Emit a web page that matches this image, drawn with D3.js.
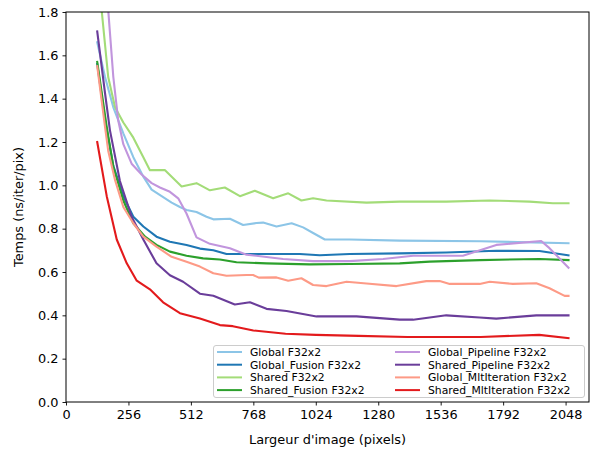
<!DOCTYPE html>
<html><head><meta charset="utf-8">
<script src="https://cdn.jsdelivr.net/npm/d3@7"></script>
<style>body{margin:0;background:#fff}svg{display:block}text{font-family:"DejaVu Sans",sans-serif}</style>
</head><body><svg id="c" width="595" height="453"></svg>
<script>
const xTicks = [0,256,512,768,1024,1280,1536,1792,2048];
const yTicks = [0,0.2,0.4,0.6,0.8,1.0,1.2,1.4,1.6,1.8];
const seriesNames = ["Global F32x2","Global_Fusion F32x2","Shared F32x2","Shared_Fusion F32x2","Global_Pipeline F32x2","Shared_Pipeline F32x2","Global_MltIteration F32x2","Shared_MltIteration F32x2"];
const seriesColors = ["#8cc5e7","#1f77b4","#a3dc78","#2ca02c","#c195dd","#6a3d9a","#fd9a86","#e31a1c"];

const globalF32 = [[128,1.66],[160,1.50],[194,1.36],[235,1.24],[276,1.13],[317,1.04],[351,0.98],[392,0.95],[433,0.92],[467,0.90],[494,0.886],[535,0.877],[576,0.855],[604,0.843],[672,0.846],[726,0.817],[781,0.826],[808,0.828],[863,0.81],[925,0.825],[972,0.806],[1013,0.78],[1061,0.75],[1163,0.75],[1368,0.745],[1700,0.742],[2060,0.733]];
const globalFusion = [[128,1.56],[160,1.30],[194,1.09],[235,0.95],[276,0.855],[317,0.81],[371,0.763],[426,0.74],[494,0.725],[549,0.708],[604,0.70],[658,0.683],[822,0.683],[958,0.683],[1040,0.677],[1163,0.683],[1368,0.686],[1559,0.69],[1764,0.698],[1941,0.697],[2060,0.677]];
const sharedF32 = [[128,2.02],[146,1.81],[173,1.50],[201,1.36],[235,1.29],[276,1.22],[317,1.13],[344,1.07],[406,1.07],[474,0.995],[535,1.01],[590,0.977],[651,0.99],[713,0.95],[774,0.975],[849,0.94],[911,0.963],[965,0.93],[1013,0.94],[1068,0.93],[1232,0.92],[1368,0.925],[1559,0.925],[1737,0.93],[1900,0.925],[1996,0.917],[2060,0.917]];
const sharedFusion = [[128,1.57],[167,1.27],[194,1.086],[235,0.93],[276,0.825],[324,0.763],[371,0.725],[426,0.694],[494,0.675],[562,0.663],[631,0.658],[699,0.645],[822,0.64],[999,0.635],[1163,0.637],[1368,0.64],[1491,0.648],[1696,0.655],[1941,0.66],[2060,0.655]];
const globalPipeline = [[128,2.3],[173,1.81],[194,1.50],[214,1.30],[235,1.19],[269,1.10],[310,1.05],[351,1.01],[385,0.99],[426,0.97],[460,0.94],[494,0.87],[535,0.76],[590,0.73],[631,0.72],[672,0.71],[740,0.68],[890,0.66],[1013,0.65],[1163,0.65],[1300,0.66],[1423,0.675],[1627,0.675],[1764,0.725],[1948,0.743],[1982,0.71],[2060,0.62]];
const sharedPipeline = [[128,1.71],[160,1.425],[180,1.255],[221,1.02],[269,0.855],[317,0.75],[371,0.64],[426,0.585],[480,0.555],[549,0.50],[604,0.49],[692,0.45],[754,0.46],[822,0.43],[904,0.42],[1027,0.395],[1191,0.395],[1368,0.38],[1423,0.38],[1559,0.40],[1696,0.39],[1764,0.385],[1928,0.40],[2060,0.40]];
const globalMlt = [[128,1.55],[160,1.27],[173,1.16],[201,1.025],[235,0.90],[276,0.825],[317,0.763],[371,0.717],[433,0.67],[494,0.647],[549,0.625],[604,0.594],[658,0.583],[740,0.586],[767,0.586],[790,0.574],[863,0.575],[911,0.56],[965,0.571],[1013,0.54],[1068,0.535],[1150,0.555],[1232,0.547],[1355,0.535],[1477,0.558],[1532,0.558],[1573,0.545],[1696,0.545],[1737,0.555],[1832,0.545],[1928,0.548],[1982,0.525],[2044,0.49],[2060,0.49]];
const sharedMlt = [[128,1.20],[167,0.95],[208,0.75],[249,0.64],[290,0.56],[344,0.52],[398,0.46],[467,0.41],[549,0.385],[631,0.355],[684,0.35],[768,0.33],[900,0.315],[1024,0.31],[1200,0.305],[1400,0.30],[1700,0.30],[1940,0.31],[2060,0.295]];
const seriesData = [globalF32,globalFusion,sharedF32,sharedFusion,globalPipeline,sharedPipeline,globalMlt,sharedMlt];

const svg = d3.select("#c");
const L=66,R=589,T=12,B=402;
const x = d3.scaleLinear().domain([0,2144]).range([L,R]);
const y = d3.scaleLinear().domain([0,1.8]).range([B,T]);

svg.append("defs").append("clipPath").attr("id","clip").append("rect")
  .attr("x",L).attr("y",T).attr("width",R-L).attr("height",B-T);

const line = d3.line().x(d=>x(d[0])).y(d=>y(d[1]));
const g = svg.append("g").attr("clip-path","url(#clip)");
seriesData.forEach((s,i)=>{
  g.append("path").attr("d",line(s)).attr("fill","none")
   .attr("stroke",seriesColors[i]).attr("stroke-width",2.1).attr("stroke-linejoin","round").attr("stroke-linecap","square");
});

const xa = svg.append("g").attr("transform",`translate(0,${B})`)
  .call(d3.axisBottom(x).tickValues(xTicks).tickFormat(d3.format("d")).tickSizeOuter(0).tickSize(3.5).tickPadding(4));
const ya = svg.append("g").attr("transform",`translate(${L},0)`)
  .call(d3.axisLeft(y).tickValues(yTicks).tickFormat(d3.format(".1f")).tickSizeOuter(0).tickSize(3.5).tickPadding(4));
[xa,ya].forEach(a=>{
  a.select(".domain").remove();
  a.selectAll("line").attr("stroke","#000").attr("stroke-width",0.9);
  a.selectAll("text").attr("font-size",12.9).attr("fill","#000").attr("font-family","DejaVu Sans");
});
svg.append("rect").attr("x",L).attr("y",T).attr("width",R-L).attr("height",B-T)
  .attr("fill","none").attr("stroke","#000").attr("stroke-width",1);

svg.append("text").attr("x",(L+R)/2).attr("y",444).attr("text-anchor","middle")
  .attr("font-size",12.9).text("Largeur d'image (pixels)");
svg.append("text").attr("transform",`translate(23,${(T+B)/2}) rotate(-90)`).attr("text-anchor","middle")
  .attr("font-size",12.9).text("Temps (ns/iter/pix)");

const lg = svg.append("g");
lg.append("rect").attr("x",213.5).attr("y",345.5).attr("width",371).attr("height",52).attr("rx",2.5)
  .attr("fill","#fff").attr("fill-opacity",0.8).attr("stroke","#cccccc").attr("stroke-width",1);
const colX=[217,395], rowY=[352,364.7,377.4,390.1];
seriesNames.forEach((n,i)=>{
  const c=Math.floor(i/4), r=i%4;
  lg.append("line").attr("x1",colX[c]).attr("x2",colX[c]+25).attr("y1",rowY[r]).attr("y2",rowY[r])
    .attr("stroke",seriesColors[i]).attr("stroke-width",2);
  lg.append("text").attr("x",colX[c]+33).attr("y",rowY[r]+4).attr("font-size",10.8).text(n);
});
</script></body></html>
